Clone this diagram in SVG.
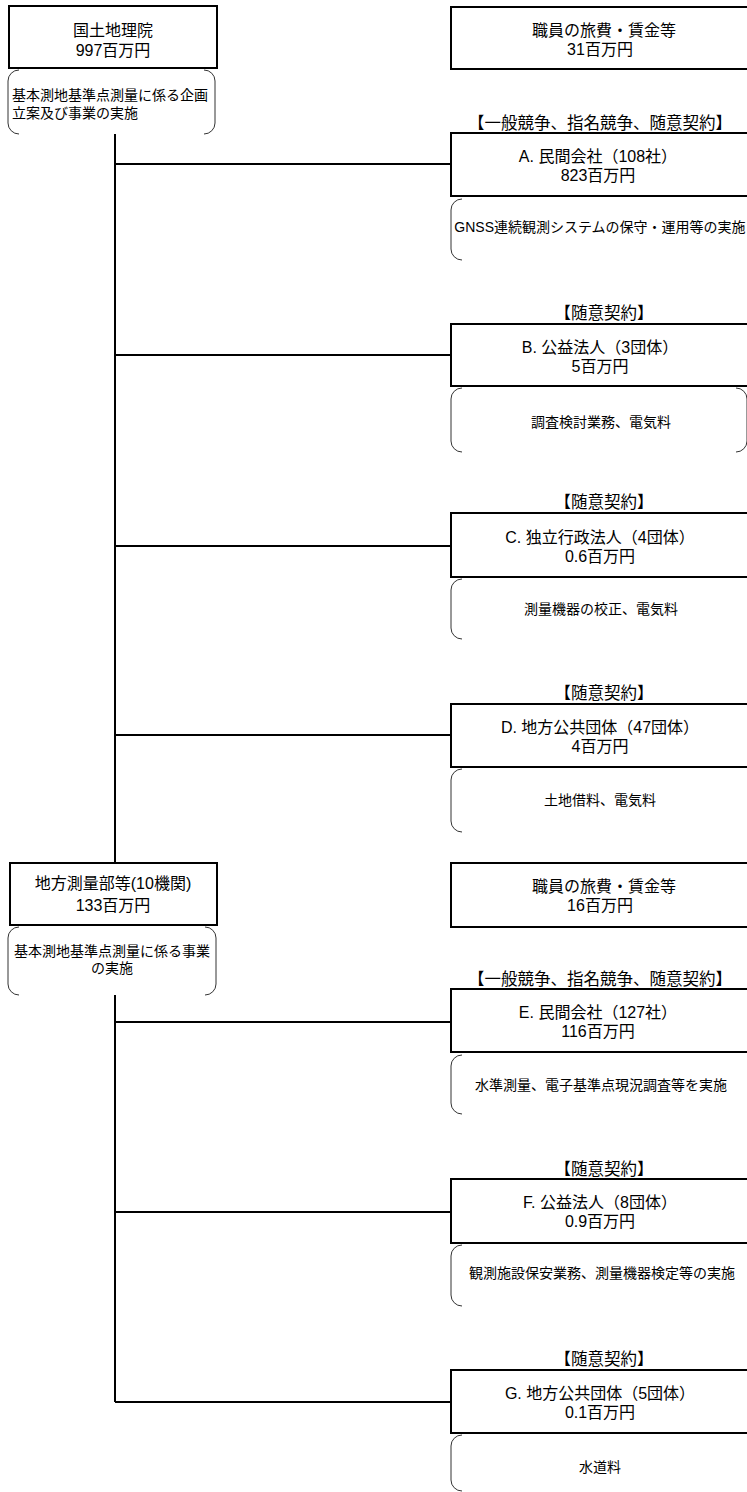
<svg xmlns="http://www.w3.org/2000/svg" width="747" height="1492" viewBox="0 0 747 1492">
<style>
.box{fill:#fff;stroke:#000;stroke-width:2}
.br{fill:none;stroke:#333;stroke-width:1}
.t{font-family:"Liberation Sans","Noto Sans CJK JP",sans-serif;font-size:16px;fill:#000;text-anchor:middle}
.l{font-family:"Liberation Sans","Noto Sans CJK JP",sans-serif;font-size:16.5px;fill:#000;text-anchor:middle}
.s{font-family:"Liberation Sans","Noto Sans CJK JP",sans-serif;font-size:14px;fill:#000;text-anchor:middle}
.c{fill:none;stroke:#000;stroke-width:2}
</style>
<rect width="747" height="1492" fill="#fff"/>
<g id="connectors">
<path class="c" d="M115,134 V863 M115,995 V1402"/>
<path class="c" d="M115,164 H451 M115,355 H451 M115,546 H451 M115,735 H451 M115,1022 H451 M115,1212 H451 M115,1402 H451"/>
</g>
<g id="kokudo">
<rect class="box" x="9" y="6" width="208" height="62"/>
<text class="t" x="113" y="36">国土地理院</text>
<text class="t" x="113" y="56">997百万円</text>
<path class="br" d="M19,70 A11,11 0 0 0 8,81 V123 A11,11 0 0 0 19,134 M204,70 A11,11 0 0 1 215,81 V123 A11,11 0 0 1 204,134"/>
<text class="s" x="12" y="100" style="text-anchor:start">基本測地基準点測量に係る企画</text>
<text class="s" x="12" y="118" style="text-anchor:start">立案及び事業の実施</text>
</g>
<g id="shokuin1">
<rect class="box" x="451" y="7" width="300" height="62"/>
<text class="t" x="604" y="36">職員の旅費・賃金等</text>
<text class="t" x="600" y="55">31百万円</text>
</g>
<g id="nodeA">
<text class="l" x="600" y="129">【一般競争、指名競争、随意契約】</text>
<rect class="box" x="451" y="133" width="300" height="63"/>
<text class="t" x="598" y="162">A. 民間会社（108社）</text>
<text class="t" x="598" y="181">823百万円</text>
<path class="br" d="M462,199 A11,11 0 0 0 451,210 V249 A11,11 0 0 0 462,260 M749,199 A11,11 0 0 1 760,210 V249 A11,11 0 0 1 749,260"/>
<text class="s" x="600" y="232">GNSS連続観測システムの保守・運用等の実施</text>
</g>
<g id="nodeB">
<text class="l" x="604" y="319">【随意契約】</text>
<rect class="box" x="451" y="324" width="300" height="62"/>
<text class="t" x="600" y="353">B. 公益法人（3団体）</text>
<text class="t" x="600" y="372">5百万円</text>
<path class="br" d="M462,388 A11,11 0 0 0 451,399 V441 A11,11 0 0 0 462,452 M736,388 A11,11 0 0 1 747,399 V441 A11,11 0 0 1 736,452"/>
<text class="s" x="601" y="427">調査検討業務、電気料</text>
</g>
<g id="nodeC">
<text class="l" x="604" y="508">【随意契約】</text>
<rect class="box" x="451" y="513" width="300" height="64"/>
<text class="t" x="600" y="543">C. 独立行政法人（4団体）</text>
<text class="t" x="600" y="562">0.6百万円</text>
<path class="br" d="M462,579 A11,11 0 0 0 451,590 V628 A11,11 0 0 0 462,639 M749,579 A11,11 0 0 1 760,590 V628 A11,11 0 0 1 749,639"/>
<text class="s" x="601" y="614">測量機器の校正、電気料</text>
</g>
<g id="nodeD">
<text class="l" x="604" y="699">【随意契約】</text>
<rect class="box" x="451" y="704" width="300" height="63"/>
<text class="t" x="600" y="733">D. 地方公共団体（47団体）</text>
<text class="t" x="600" y="752">4百万円</text>
<path class="br" d="M462,769 A11,11 0 0 0 451,780 V821 A11,11 0 0 0 462,832 M749,769 A11,11 0 0 1 760,780 V821 A11,11 0 0 1 749,832"/>
<text class="s" x="600" y="805">土地借料、電気料</text>
</g>
<g id="chiho">
<rect class="box" x="10" y="863" width="207" height="62"/>
<text class="t" x="113" y="889">地方測量部等(10機関)</text>
<text class="t" x="113" y="911">133百万円</text>
<path class="br" d="M19,927 A11,11 0 0 0 8,938 V984 A11,11 0 0 0 19,995 M205,927 A11,11 0 0 1 216,938 V984 A11,11 0 0 1 205,995"/>
<text class="s" x="112" y="956">基本測地基準点測量に係る事業</text>
<text class="s" x="112" y="973">の実施</text>
</g>
<g id="shokuin2">
<rect class="box" x="451" y="863" width="300" height="64"/>
<text class="t" x="604" y="892">職員の旅費・賃金等</text>
<text class="t" x="600" y="911">16百万円</text>
</g>
<g id="nodeE">
<text class="l" x="600" y="985">【一般競争、指名競争、随意契約】</text>
<rect class="box" x="451" y="989" width="300" height="63"/>
<text class="t" x="598" y="1018">E. 民間会社（127社）</text>
<text class="t" x="598" y="1037">116百万円</text>
<path class="br" d="M462,1055 A11,11 0 0 0 451,1066 V1103 A11,11 0 0 0 462,1114 M749,1055 A11,11 0 0 1 760,1066 V1103 A11,11 0 0 1 749,1114"/>
<text class="s" x="601" y="1090">水準測量、電子基準点現況調査等を実施</text>
</g>
<g id="nodeF">
<text class="l" x="604" y="1175">【随意契約】</text>
<rect class="box" x="451" y="1179" width="300" height="64"/>
<text class="t" x="600" y="1208">F. 公益法人（8団体）</text>
<text class="t" x="600" y="1227">0.9百万円</text>
<path class="br" d="M462,1245 A11,11 0 0 0 451,1256 V1295 A11,11 0 0 0 462,1306 M749,1245 A11,11 0 0 1 760,1256 V1295 A11,11 0 0 1 749,1306"/>
<text class="s" x="602" y="1278">観測施設保安業務、測量機器検定等の実施</text>
</g>
<g id="nodeG">
<text class="l" x="604" y="1365">【随意契約】</text>
<rect class="box" x="451" y="1370" width="300" height="63"/>
<text class="t" x="600" y="1399">G. 地方公共団体（5団体）</text>
<text class="t" x="600" y="1418">0.1百万円</text>
<path class="br" d="M462,1435 A11,11 0 0 0 451,1446 V1480 A11,11 0 0 0 462,1491 M749,1435 A11,11 0 0 1 760,1446 V1480 A11,11 0 0 1 749,1491"/>
<text class="s" x="600" y="1472">水道料</text>
</g>
</svg>
